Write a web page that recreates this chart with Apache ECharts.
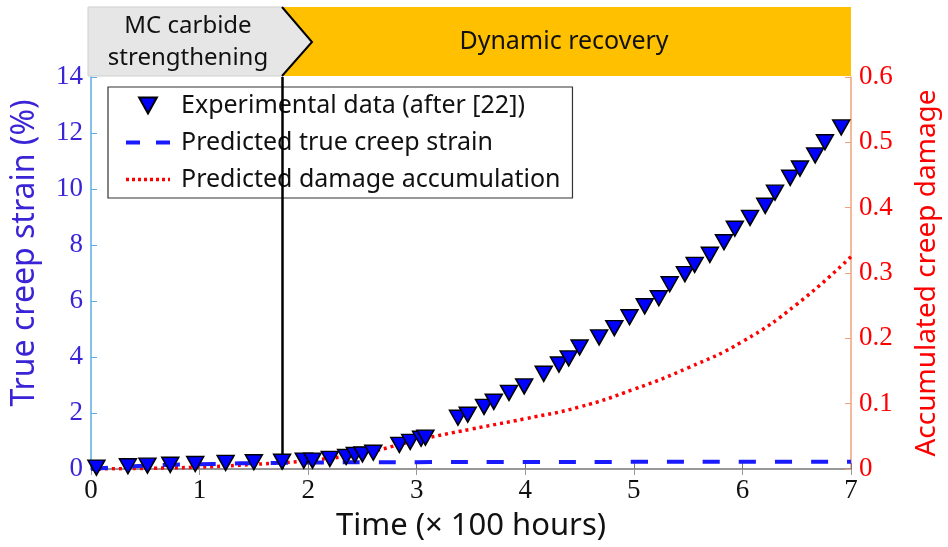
<!DOCTYPE html>
<html>
<head>
<meta charset="utf-8">
<script src="https://cdn.jsdelivr.net/npm/echarts@6/dist/echarts.min.js"></script>
<style>html,body{margin:0;padding:0;background:#fff}#c{width:948px;height:547px}</style>
</head>
<body>
<div id="c"></div>
<script>
// Experimental data (time in 100 h, true creep strain %)
var expTime = [0.05,0.34,0.52,0.73,0.96,1.24,1.50,1.76,1.96,2.04,2.20,2.35,2.43,2.50,2.60,2.84,2.94,3.04,3.08,
  3.38,3.47,3.62,3.71,3.85,3.99,4.17,4.31,4.40,4.50,4.68,4.82,4.96,5.10,5.23,5.33,5.47,5.56,5.70,5.83,5.93,
  6.07,6.21,6.30,6.44,6.53,6.67,6.76,6.91];
var expStrain = [0.05,0.10,0.12,0.15,0.18,0.22,0.24,0.26,0.30,0.30,0.36,0.43,0.50,0.52,0.58,0.86,0.97,1.08,1.12,
  1.83,1.94,2.22,2.40,2.72,2.95,3.40,3.73,3.95,4.34,4.70,5.03,5.42,5.81,6.10,6.60,6.96,7.29,7.65,8.10,8.58,
  8.97,9.40,9.87,10.40,10.73,11.20,11.67,12.20];
// Predicted true creep strain (%)
var predTime = [0,0.25,0.5,0.75,1.0,1.25,1.5,1.75,2.0,2.5,3.0,4.0,5.0,6.0,7.0];
var predStrain = [0,0.07,0.12,0.15,0.17,0.19,0.21,0.22,0.23,0.24,0.245,0.25,0.255,0.26,0.26];
// Predicted damage accumulation
var dmgTime = [0,0.5,1.0,1.5,2.0,2.5,3.0,3.5,4.0,4.5,5.0,5.5,6.0,6.5,7.0];
var dmgValue = [0,0.001,0.003,0.007,0.013,0.024,0.044,0.061,0.077,0.095,0.122,0.155,0.195,0.252,0.325];
var xTicks = [0,1,2,3,4,5,6,7];
var yLeftTicks = [0,2,4,6,8,10,12,14];
var yRightTicks = [0,0.1,0.2,0.3,0.4,0.5,0.6];
var transitionTime = 1.76;

function zip(a,b){return a.map(function(v,i){return [v,b[i]];});}
var tri = 'path://M0,0 L10,0 L5,9 Z';
var sansFont = 'Noto Sans';
var chart = echarts.init(document.getElementById('c'));
var option = {
  animation:false,
  backgroundColor:'#fff',
  grid:{left:91,right:97,top:77,bottom:78, outerBoundsMode:'none', containLabel:false},
  legend:{
    left:108, top:87, orient:'vertical', itemGap:10, itemWidth:44, itemHeight:16,
    padding:[5,12,5,16],
    borderColor:'#333', borderWidth:1.2, backgroundColor:'#fff',
    textStyle:{fontFamily:sansFont, fontSize:25, lineHeight:27, color:'#111', padding:[0,0,0,6]},
    data:[
      {name:'Experimental data (after [22])'},
      {name:'Predicted true creep strain', itemStyle:{opacity:0}, lineStyle:{type:[14,16], width:4}},
      {name:'Predicted damage accumulation', itemStyle:{opacity:0}, lineStyle:{type:[3,3], width:3.5}}
    ]
  },
  xAxis:[{
    type:'value', min:0, max:7, interval:1,
    name:'Time (× 100 hours)', nameLocation:'middle', nameGap:42,
    nameTextStyle:{fontFamily:sansFont, fontSize:31, color:'#111'},
    axisLine:{lineStyle:{color:'#777', width:1.5}},
    axisTick:{inside:true, length:6, lineStyle:{color:'#777'}},
    axisLabel:{fontFamily:'Liberation Serif', fontSize:27, color:'#111', margin:8},
    splitLine:{show:false}
  },{
    type:'value', min:0, max:7, interval:1, position:'top',
    axisLine:{lineStyle:{color:'#999', width:1}},
    axisTick:{inside:true, length:6, lineStyle:{color:'#999'}},
    axisLabel:{show:false}, splitLine:{show:false}
  }],
  yAxis:[{
    type:'value', min:0, max:14, interval:2,
    name:'True creep strain (%)', nameLocation:'middle', nameGap:50,
    nameTextStyle:{fontFamily:sansFont, fontSize:32, color:'#3a24d6', padding:[0,0,0,40]},
    axisLine:{show:true, onZero:false, lineStyle:{color:'#5aaee6', width:1.5}},
    axisTick:{show:true, inside:true, length:6, lineStyle:{color:'#5aaee6'}},
    axisLabel:{fontFamily:'Liberation Serif', fontSize:27, color:'#3a24d6', margin:8},
    splitLine:{show:false}
  },{
    type:'value', min:0, max:0.6, interval:0.1, position:'right',
    name:'Accumulated creep damage', nameLocation:'middle', nameGap:62, nameRotate:90,
    nameTextStyle:{fontFamily:sansFont, fontSize:28, color:'#ff0000'},
    axisLine:{show:true, onZero:false, lineStyle:{color:'#f0a07a', width:1.5}},
    axisTick:{show:true, inside:true, length:6, lineStyle:{color:'#f0a07a'}},
    axisLabel:{fontFamily:'Liberation Serif', fontSize:27, color:'#ff0000', margin:8,
      formatter:function(v){return v===0?'0':v.toFixed(1);}},
    splitLine:{show:false}
  }],
  graphic:[
    {type:'polygon', shape:{points:[[282,7],[851,7],[851,76],[282,76],[312,42]]}, style:{fill:'#ffc000'}, z:1},
    {type:'polygon', shape:{points:[[88,7],[282,7],[312,42],[282,76],[88,76]]}, style:{fill:'#e6e6e6', stroke:'#cfcfcf', lineWidth:1}, z:1},
    {type:'polyline', shape:{points:[[282,7],[312,42],[282,76]]}, style:{stroke:'#000', lineWidth:2, fill:null}, z:2},
    {type:'text', x:188, y:26, style:{text:'MC carbide', font:'24px "Noto Sans"', fill:'#111', align:'center', verticalAlign:'middle'}, z:3},
    {type:'text', x:188, y:58, style:{text:'strengthening', font:'24px "Noto Sans"', fill:'#111', align:'center', verticalAlign:'middle'}, z:3},
    {type:'text', x:564, y:42, style:{text:'Dynamic recovery', font:'25px "Noto Sans"', fill:'#111', align:'center', verticalAlign:'middle'}, z:3}
  ],
  series:[
    {
      name:'Predicted damage accumulation', type:'line', yAxisIndex:1, smooth:true, showSymbol:false,
      symbol:'none',
      lineStyle:{color:'#ff0000', width:3.5, type:[3,4]},
      itemStyle:{color:'#ff0000'},
      data:zip(dmgTime,dmgValue), z:3
    },
    {
      name:'Predicted true creep strain', type:'line', yAxisIndex:0, smooth:true, showSymbol:false,
      symbol:'none',
      lineStyle:{color:'#1a1aff', width:4, type:[17,19]},
      itemStyle:{color:'#1a1aff'},
      data:zip(predTime,predStrain), z:3,
      markLine:{
        silent:true, symbol:'none', label:{show:false},
        lineStyle:{color:'#000', width:2.5, type:'solid'},
        data:[{xAxis:transitionTime}]
      }
    },
    {
      name:'Experimental data (after [22])', type:'scatter', yAxisIndex:0,
      symbol:tri, symbolSize:[17,15],
      itemStyle:{color:'#0000ff', opacity:1, borderColor:'#000', borderWidth:1.5},
      data:zip(expTime,expStrain), z:5
    }
  ]
};
chart.setOption(option);
</script>
</body>
</html>
